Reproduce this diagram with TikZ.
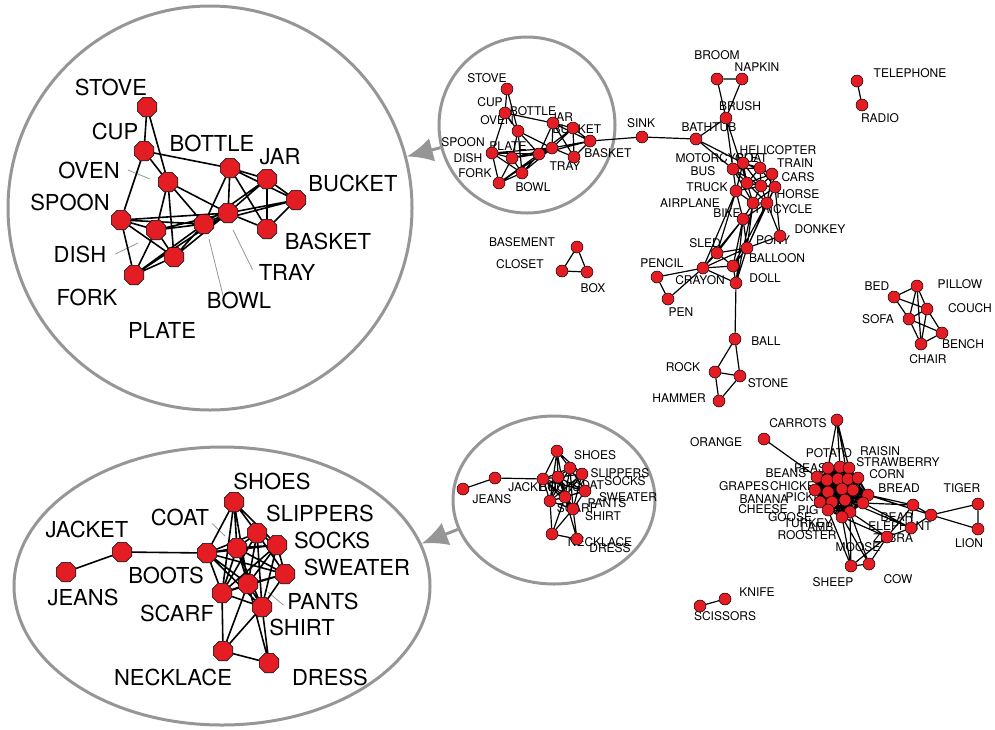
\documentclass[tikz,border=0pt]{standalone}
\usepackage{fontspec}
\setmainfont{TeX Gyre Heros}
\usetikzlibrary{positioning,shapes.geometric,arrows.meta,backgrounds}
\definecolor{nodered}{RGB}{228,28,36}
\definecolor{ringgray}{RGB}{150,150,150}
\tikzset{
  vx/.style={circle, draw=black, line width=0.5pt, fill=nodered, minimum size=12pt, inner sep=0pt},
  bigvx/.style={regular polygon, regular polygon sides=8, draw=black, line width=0.6pt, fill=nodered, minimum size=21pt, inner sep=0pt},
  lab/.style={font=\fontsize{12}{12}\selectfont, inner sep=0pt},
  biglab/.style={font=\fontsize{22}{22}\selectfont, inner sep=0pt},
  edge/.style={line width=1.2pt},
  bigedge/.style={line width=1.6pt},
  lead/.style={draw=ringgray, line width=0.8pt},
  zoomring/.style={draw=ringgray, line width=3pt, inner sep=0pt},
  zoomarrow/.style={draw=ringgray, fill=ringgray, line width=3pt, -{Latex[length=26pt,width=24pt]}},
}
\begin{document}
\begin{tikzpicture}[x=1pt,y=-1pt]
\useasboundingbox (0,0) rectangle (995,729);

% kitchen, zoomed
\node[bigvx] (Kstove) at (147,107) {};
\node[bigvx] (Kcup) at (144,151) {};
\node[bigvx] (Koven) at (168,182) {};
\node[bigvx] (Kbottle) at (230,168) {};
\node[bigvx] (Kjar) at (267,179) {};
\node[bigvx] (Kbucket) at (296,200) {};
\node[bigvx] (Kspoon) at (121,220) {};
\node[bigvx] (Kdish) at (156,230) {};
\node[bigvx] (Kbowl) at (204,224) {};
\node[bigvx] (Ktray) at (228,213) {};
\node[bigvx] (Kbasket) at (267,229) {};
\node[bigvx] (Kplate) at (174,257) {};
\node[bigvx] (Kfork) at (134,275) {};

% clothes, zoomed
\node[bigvx] (Cshoes) at (234,502) {};
\node[bigvx] (Cslippers) at (257,533) {};
\node[bigvx] (Csocks) at (277,545) {};
\node[bigvx] (Ccoat) at (237,548) {};
\node[bigvx] (Cboots) at (207,553) {};
\node[bigvx] (Cjacket) at (122,552) {};
\node[bigvx] (Cjeans) at (66,572) {};
\node[bigvx] (Csweater) at (285,574) {};
\node[bigvx] (Cpants) at (248,584) {};
\node[bigvx] (Cscarf) at (222,593) {};
\node[bigvx] (Cshirt) at (262,607) {};
\node[bigvx] (Cnecklace) at (223,651) {};
\node[bigvx] (Cdress) at (269,663) {};

% kitchen
\node[vx] (kstove) at (507,89) {};
\node[vx] (kcup) at (505,113) {};
\node[vx] (koven) at (518,131) {};
\node[vx] (kbottle) at (553,123) {};
\node[vx] (kjar) at (573,128) {};
\node[vx] (kbucket) at (590,141) {};
\node[vx] (kspoon) at (492,153) {};
\node[vx] (kdish) at (512,158) {};
\node[vx] (kbowl) at (539,154) {};
\node[vx] (ktray) at (552,148) {};
\node[vx] (kbasket) at (574,157) {};
\node[vx] (kplate) at (522,173) {};
\node[vx] (kfork) at (499,183) {};

% clothes
\node[vx] (cshoes) at (557,451) {};
\node[vx] (cslippers) at (570,468) {};
\node[vx] (csocks) at (582,474) {};
\node[vx] (ccoat) at (558,477) {};
\node[vx] (cboots) at (543,479) {};
\node[vx] (cjacket) at (495,478) {};
\node[vx] (cjeans) at (463,489) {};
\node[vx] (csweater) at (585,491) {};
\node[vx] (cpants) at (565,497) {};
\node[vx] (cscarf) at (550,501) {};
\node[vx] (cshirt) at (573,509) {};
\node[vx] (cnecklace) at (552,534) {};
\node[vx] (cdress) at (577,539) {};

% vehicles, toys, tools
\node[vx] (sink) at (642,137) {};
\node[vx] (broom) at (717,79) {};
\node[vx] (napkin) at (742,79) {};
\node[vx] (brush) at (726,118) {};
\node[vx] (bathtub) at (696,139) {};
\node[vx] (heli) at (743,163) {};
\node[vx] (bus) at (733,169) {};
\node[vx] (train) at (760,168) {};
\node[vx] (cars) at (772,174) {};
\node[vx] (moto) at (747,183) {};
\node[vx] (boat) at (761,186) {};
\node[vx] (horse) at (775,187) {};
\node[vx] (truck) at (736,191) {};
\node[vx] (airplane) at (753,203) {};
\node[vx] (tricycle) at (767,203) {};
\node[vx] (bike) at (743,219) {};
\node[vx] (donkey) at (780,236) {};
\node[vx] (pony) at (747,248) {};
\node[vx] (sled) at (717,253) {};
\node[vx] (balloon) at (733,266) {};
\node[vx] (crayon) at (703,268) {};
\node[vx] (pencil) at (657,277) {};
\node[vx] (pen) at (668,299) {};
\node[vx] (doll) at (736,283) {};
\node[vx] (ball) at (735,339) {};
\node[vx] (rock) at (715,372) {};
\node[vx] (stone) at (740,376) {};
\node[vx] (hammer) at (719,401) {};
\node[vx] (basement) at (577,247) {};
\node[vx] (closet) at (562,271) {};
\node[vx] (box) at (587,272) {};
\node[vx] (telephone) at (857,81) {};
\node[vx] (radio) at (862,105) {};
\node[vx] (bed) at (894,297) {};
\node[vx] (pillow) at (917,286) {};
\node[vx] (couch) at (927,309) {};
\node[vx] (sofa) at (909,319) {};
\node[vx] (bench) at (942,333) {};
\node[vx] (chair) at (921,344) {};

% food and animals
\node[vx] (carrots) at (837,420) {};
\node[vx] (orange) at (764,439) {};
\node[vx] (f1) at (828,468) {};
\node[vx] (f2) at (840,467) {};
\node[vx] (f3) at (849,468) {};
\node[vx] (f4) at (817,477) {};
\node[vx] (f5) at (827,480) {};
\node[vx] (f6) at (838,479) {};
\node[vx] (f7) at (848,479) {};
\node[vx] (f8) at (858,478) {};
\node[vx] (f9) at (815,490) {};
\node[vx] (f10) at (828,492) {};
\node[vx] (f11) at (842,489) {};
\node[vx] (f12) at (853,490) {};
\node[vx] (f13) at (868,495) {};
\node[vx] (f14) at (820,502) {};
\node[vx] (f15) at (832,502) {};
\node[vx] (f16) at (845,500) {};
\node[vx] (f17) at (863,503) {};
\node[vx] (f18) at (828,510) {};
\node[vx] (f19) at (850,512) {};
\node[vx] (f20) at (842,517) {};
\node[vx] (bear) at (913,505) {};
\node[vx] (wild) at (931,515) {};
\node[vx] (elephant) at (911,528) {};
\node[vx] (zebra) at (887,537) {};
\node[vx] (tiger) at (978,504) {};
\node[vx] (lion) at (978,529) {};
\node[vx] (sheep) at (851,566) {};
\node[vx] (cow) at (869,564) {};
\node[vx] (knife) at (725,599) {};
\node[vx] (scissors) at (700,606) {};

\begin{scope}[on background layer]
\node[zoomring, circle, minimum size=404pt] (ringK) at (210,208) {};
\node[zoomring, circle, minimum size=176pt] (ringk) at (527,125) {};
\node[zoomring, ellipse, minimum width=416pt, minimum height=278pt] (ringC) at (222,586) {};
\node[zoomring, ellipse, minimum width=202pt, minimum height=168pt] (ringc) at (554,500) {};
\draw[zoomarrow] (ringk) -- (ringK);
\draw[zoomarrow] (ringc.197) -- (ringC.12);

\node[biglab] (lKstove) at (111,87) {STOVE};
\node[biglab] (lKcup) at (115,131) {CUP};
\node[biglab] (lKbottle) at (212,143) {BOTTLE};
\node[biglab] (lKjar) at (280,157) {JAR};
\node[biglab] (lKoven) at (89,170) {OVEN};
\node[biglab] (lKbucket) at (353,183) {BUCKET};
\node[biglab] (lKspoon) at (70,202) {SPOON};
\node[biglab] (lKdish) at (80,254) {DISH};
\node[biglab] (lKbasket) at (328,241) {BASKET};
\node[biglab] (lKtray) at (287,272) {TRAY};
\node[biglab] (lKbowl) at (239,300) {BOWL};
\node[biglab] (lKfork) at (87,297) {FORK};
\node[biglab] (lKplate) at (162,330) {PLATE};
\coordinate (pKoven) at (150,179);
\coordinate (pKdish) at (138,243);
\coordinate (pKtray) at (233,230);
\coordinate (pKbowl) at (209,239);
\draw[lead] ([xshift=8pt]lKoven.east) -- (pKoven);
\draw[lead] ([xshift=9pt]lKdish.east) -- (pKdish);
\draw[lead] ([xshift=-6pt,yshift=-6pt]lKtray.north west) -- (pKtray);
\draw[lead] ([xshift=-16pt,yshift=-4pt]lKbowl.north) -- (pKbowl);

\node[biglab] (lCshoes) at (272,481) {SHOES};
\node[biglab] (lCslippers) at (320,513) {SLIPPERS};
\node[biglab] (lCsocks) at (332,540) {SOCKS};
\node[biglab] (lCcoat) at (180,517) {COAT};
\node[biglab] (lCboots) at (166,575) {BOOTS};
\node[biglab] (lCjacket) at (87,529) {JACKET};
\node[biglab] (lCjeans) at (83,597) {JEANS};
\node[biglab] (lCsweater) at (357,567) {SWEATER};
\node[biglab] (lCpants) at (323,601) {PANTS};
\node[biglab] (lCscarf) at (177,613) {SCARF};
\node[biglab] (lCshirt) at (302,627) {SHIRT};
\node[biglab] (lCnecklace) at (173,677) {NECKLACE};
\node[biglab] (lCdress) at (330,677) {DRESS};
\coordinate (pCcoat) at (225,536);
\coordinate (pCpants) at (268,592);
\draw[lead] ([xshift=3pt,yshift=2pt]lCcoat.south east) -- (pCcoat);
\draw[lead] ([xshift=-4pt,yshift=-4pt]lCpants.west) -- (pCpants);

\node[lab] (lkstove) at (487,78) {STOVE};
\node[lab] (lkcup) at (490,102) {CUP};
\node[lab] (lkoven) at (497,120) {OVEN};
\node[lab] (lkbottle) at (533,111) {BOTTLE};
\node[lab] (lkjar) at (562,117) {JAR};
\node[lab] (lkbucket) at (577,129) {BUCKET};
\node[lab] (lkspoon) at (463,142) {SPOON};
\node[lab] (lkplate) at (508,146) {PLATE};
\node[lab] (lkdish) at (468,158) {DISH};
\node[lab] (lkfork) at (475,173) {FORK};
\node[lab] (lkbowl) at (533,187) {BOWL};
\node[lab] (lktray) at (565,166) {TRAY};
\node[lab] (lkbasket) at (608,153) {BASKET};

\node[lab] (lcshoes) at (595,455) {SHOES};
\node[lab] (lcslippers) at (620,473) {SLIPPERS};
\node[lab] (lcsocks) at (625,481) {SOCKS};
\node[lab] (lccoat) at (588,485) {COAT};
\node[lab] (lcboots) at (560,487) {BOOTS};
\node[lab] (lcjacket) at (531,487) {JACKET};
\node[lab] (lcjeans) at (492,499) {JEANS};
\node[lab] (lcsweater) at (628,497) {SWEATER};
\node[lab] (lcpants) at (607,503) {PANTS};
\node[lab] (lcscarf) at (577,508) {SCARF};
\node[lab] (lcshirt) at (603,516) {SHIRT};
\node[lab] (lcnecklace) at (600,542) {NECKLACE};
\node[lab] (lcdress) at (610,548) {DRESS};

\node[lab] (tsink) at (641,123) {SINK};
\node[lab] (tbroom) at (717,55) {BROOM};
\node[lab] (tnapkin) at (757,67) {NAPKIN};
\node[lab] (tbrush) at (740,106) {BRUSH};
\node[lab] (tbathtub) at (709,127) {BATHTUB};
\node[lab] (theli) at (778,150) {HELICOPTER};
\node[lab] (tmoto) at (717,158) {MOTORCYCLE};
\node[lab] (tboat) at (752,158) {BOAT};
\node[lab] (tbus) at (703,171) {BUS};
\node[lab] (ttrain) at (795,163) {TRAIN};
\node[lab] (tcars) at (798,177) {CARS};
\node[lab] (ttruck) at (707,187) {TRUCK};
\node[lab] (thorse) at (798,194) {HORSE};
\node[lab] (tairplane) at (690,203) {AIRPLANE};
\node[lab] (tbike) at (727,213) {BIKE};
\node[lab] (ttricycle) at (783,209) {TRICYCLE};
\node[lab] (tdonkey) at (820,229) {DONKEY};
\node[lab] (tpony) at (773,240) {PONY};
\node[lab] (tsled) at (705,243) {SLED};
\node[lab] (tballoon) at (777,258) {BALLOON};
\node[lab] (tpencil) at (662,263) {PENCIL};
\node[lab] (tcrayon) at (700,280) {CRAYON};
\node[lab] (tdoll) at (765,278) {DOLL};
\node[lab] (tpen) at (681,312) {PEN};
\node[lab] (tball) at (766,341) {BALL};
\node[lab] (trock) at (683,367) {ROCK};
\node[lab] (tstone) at (768,383) {STONE};
\node[lab] (thammer) at (679,398) {HAMMER};
\node[lab] (tbasement) at (522,242) {BASEMENT};
\node[lab] (tcloset) at (520,264) {CLOSET};
\node[lab] (tbox) at (593,288) {BOX};
\node[lab] (ttelephone) at (910,73) {TELEPHONE};
\node[lab] (tradio) at (880,118) {RADIO};
\node[lab] (tbed) at (877,286) {BED};
\node[lab] (tpillow) at (960,284) {PILLOW};
\node[lab] (tcouch) at (970,308) {COUCH};
\node[lab] (tsofa) at (878,319) {SOFA};
\node[lab] (tbench) at (963,344) {BENCH};
\node[lab] (tchair) at (928,359) {CHAIR};

\node[lab] (tcarrots) at (798,423) {CARROTS};
\node[lab] (torange) at (716,442) {ORANGE};
\node[lab] (tpotato) at (829,453) {POTATO};
\node[lab] (traisin) at (880,451) {RAISIN};
\node[lab] (tstrawberry) at (898,462) {STRAWBERRY};
\node[lab] (tcorn) at (887,474) {CORN};
\node[lab] (tbeans) at (786,473) {BEANS};
\node[lab] (tpeas) at (810,468) {PEAS};
\node[lab] (tgrapes) at (744,486) {GRAPES};
\node[lab] (tchicken) at (797,486) {CHICKEN};
\node[lab] (tbread) at (899,488) {BREAD};
\node[lab] (ttiger) at (962,488) {TIGER};
\node[lab] (tbanana) at (764,499) {BANANA};
\node[lab] (tpickle) at (807,497) {PICKLE};
\node[lab] (tcheese) at (763,509) {CHEESE};
\node[lab] (tpig) at (808,510) {PIG};
\node[lab] (tgoose) at (790,517) {GOOSE};
\node[lab] (tturkey) at (808,523) {TURKEY};
\node[lab] (tlamb) at (817,527) {LAMB};
\node[lab] (trooster) at (807,535) {ROOSTER};
\node[lab] (tmoose) at (858,547) {MOOSE};
\node[lab] (tzebra) at (893,538) {ZEBRA};
\node[lab] (telephant) at (900,526) {ELEPHANT};
\node[lab] (tbear) at (897,517) {BEAR};
\node[lab] (tlion) at (969,543) {LION};
\node[lab] (tsheep) at (833,582) {SHEEP};
\node[lab] (tcow) at (898,579) {COW};
\node[lab] (tknife) at (757,592) {KNIFE};
\node[lab] (tscissors) at (725,616) {SCISSORS};

\draw[bigedge] (Kstove)--(Kcup) (Kstove)--(Koven) (Kcup)--(Koven) (Kcup)--(Kspoon) (Kcup)--(Kbottle)
  (Koven)--(Kdish) (Koven)--(Kplate) (Koven)--(Ktray) (Koven)--(Kbowl)
  (Kbottle)--(Kjar) (Kbottle)--(Kbucket) (Kbottle)--(Kbowl) (Kbottle)--(Ktray) (Kbottle)--(Kbasket)
  (Kjar)--(Kbucket) (Kjar)--(Kbasket) (Kjar)--(Ktray) (Kjar)--(Kbowl)
  (Kbucket)--(Kbasket) (Kbucket)--(Ktray) (Kbucket)--(Kbowl) (Ktray)--(Kbasket)
  (Kspoon)--(Kdish) (Kspoon)--(Kfork) (Kspoon)--(Kplate) (Kspoon)--(Kbowl) (Kspoon)--(Ktray)
  (Kdish)--(Kfork) (Kdish)--(Kplate) (Kdish)--(Kbowl) (Kdish)--(Ktray)
  (Kfork)--(Kplate) (Kfork)--(Kbowl) (Kfork)--(Ktray)
  (Kplate)--(Kbowl) (Kplate)--(Ktray) (Kbowl)--(Ktray);

\draw[edge] (kstove)--(kcup) (kstove)--(koven) (kcup)--(koven) (kcup)--(kspoon) (kcup)--(kbottle)
  (koven)--(kdish) (koven)--(kplate) (koven)--(ktray) (koven)--(kbowl)
  (kbottle)--(kjar) (kbottle)--(kbucket) (kbottle)--(kbowl) (kbottle)--(ktray) (kbottle)--(kbasket)
  (kjar)--(kbucket) (kjar)--(kbasket) (kjar)--(ktray) (kjar)--(kbowl)
  (kbucket)--(kbasket) (kbucket)--(ktray) (kbucket)--(kbowl) (ktray)--(kbasket)
  (kspoon)--(kdish) (kspoon)--(kfork) (kspoon)--(kplate) (kspoon)--(kbowl) (kspoon)--(ktray)
  (kdish)--(kfork) (kdish)--(kplate) (kdish)--(kbowl) (kdish)--(ktray)
  (kfork)--(kplate) (kfork)--(kbowl) (kfork)--(ktray)
  (kplate)--(kbowl) (kplate)--(ktray) (kbowl)--(ktray) (kbucket)--(sink);

\draw[bigedge] (Cjeans)--(Cjacket) (Cjacket)--(Cboots)
  (Cboots)--(Cshoes) (Cboots)--(Ccoat) (Cboots)--(Cslippers) (Cboots)--(Csocks) (Cboots)--(Cpants)
  (Cboots)--(Cscarf) (Cboots)--(Cshirt) (Cboots)--(Csweater)
  (Cshoes)--(Cslippers) (Cshoes)--(Csocks) (Cshoes)--(Ccoat) (Cshoes)--(Cpants) (Cshoes)--(Cscarf)
  (Cslippers)--(Csocks) (Cslippers)--(Ccoat) (Cslippers)--(Csweater) (Cslippers)--(Cpants)
  (Cslippers)--(Cscarf) (Cslippers)--(Cshirt)
  (Csocks)--(Ccoat) (Csocks)--(Csweater) (Csocks)--(Cpants) (Csocks)--(Cshirt) (Csocks)--(Cscarf)
  (Ccoat)--(Cpants) (Ccoat)--(Cscarf) (Ccoat)--(Cshirt) (Ccoat)--(Csweater)
  (Csweater)--(Cpants) (Csweater)--(Cscarf) (Csweater)--(Cshirt)
  (Cpants)--(Cscarf) (Cpants)--(Cshirt) (Cscarf)--(Cshirt)
  (Cscarf)--(Cnecklace) (Cshirt)--(Cnecklace) (Cpants)--(Cnecklace)
  (Cnecklace)--(Cdress) (Cshirt)--(Cdress) (Cpants)--(Cdress);

\draw[edge] (cjeans)--(cjacket) (cjacket)--(cboots)
  (cboots)--(cshoes) (cboots)--(ccoat) (cboots)--(cslippers) (cboots)--(csocks) (cboots)--(cpants)
  (cboots)--(cscarf) (cboots)--(cshirt) (cboots)--(csweater)
  (cshoes)--(cslippers) (cshoes)--(csocks) (cshoes)--(ccoat) (cshoes)--(cpants) (cshoes)--(cscarf)
  (cslippers)--(csocks) (cslippers)--(ccoat) (cslippers)--(csweater) (cslippers)--(cpants)
  (cslippers)--(cscarf) (cslippers)--(cshirt)
  (csocks)--(ccoat) (csocks)--(csweater) (csocks)--(cpants) (csocks)--(cshirt) (csocks)--(cscarf)
  (ccoat)--(cpants) (ccoat)--(cscarf) (ccoat)--(cshirt) (ccoat)--(csweater)
  (csweater)--(cpants) (csweater)--(cscarf) (csweater)--(cshirt)
  (cpants)--(cscarf) (cpants)--(cshirt) (cscarf)--(cshirt)
  (cscarf)--(cnecklace) (cshirt)--(cnecklace) (cpants)--(cnecklace)
  (cnecklace)--(cdress) (cshirt)--(cdress) (cpants)--(cdress);

\draw[edge] (sink)--(bathtub) (bathtub)--(brush) (brush)--(broom) (brush)--(napkin) (broom)--(napkin)
  (bathtub)--(bus) (bathtub)--(heli) (brush)--(bus) (brush)--(moto)
  (heli)--(bus) (heli)--(train) (heli)--(moto) (heli)--(boat) (heli)--(cars) (heli)--(truck)
  (bus)--(train) (bus)--(moto) (bus)--(truck) (bus)--(boat) (bus)--(airplane)
  (train)--(cars) (train)--(moto) (train)--(boat) (train)--(horse)
  (cars)--(boat) (cars)--(horse) (cars)--(moto) (cars)--(tricycle)
  (moto)--(boat) (moto)--(truck) (moto)--(airplane) (moto)--(tricycle) (moto)--(horse)
  (boat)--(horse) (boat)--(airplane) (boat)--(tricycle) (boat)--(truck)
  (horse)--(tricycle) (horse)--(airplane)
  (truck)--(airplane) (truck)--(bike) (airplane)--(tricycle) (airplane)--(bike) (tricycle)--(bike)
  (bike)--(sled) (bike)--(crayon) (bike)--(balloon) (bike)--(doll) (bike)--(pony)
  (truck)--(sled) (truck)--(crayon) (airplane)--(pony) (tricycle)--(pony) (tricycle)--(donkey)
  (horse)--(donkey) (horse)--(pony) (tricycle)--(balloon) (airplane)--(doll)
  (pony)--(donkey) (sled)--(crayon) (sled)--(balloon) (sled)--(pony) (crayon)--(balloon)
  (crayon)--(doll) (crayon)--(pony) (balloon)--(pony) (balloon)--(doll) (pony)--(doll)
  (pencil)--(crayon) (pencil)--(pen) (pen)--(crayon) (doll)--(ball) (ball)--(rock) (ball)--(stone)
  (rock)--(stone) (rock)--(hammer) (stone)--(hammer)
  (basement)--(closet) (basement)--(box) (closet)--(box)
  (telephone)--(radio)
  (bed)--(pillow) (bed)--(couch) (bed)--(sofa) (pillow)--(couch) (pillow)--(sofa) (pillow)--(chair)
  (couch)--(sofa) (couch)--(bench) (couch)--(chair) (sofa)--(bench) (sofa)--(chair) (chair)--(bench)
  (knife)--(scissors);

\foreach \i in {1,...,19}{
  \pgfmathtruncatemacro\nxt{\i+1}
  \foreach \j in {\nxt,...,20}{\draw[edge] (f\i)--(f\j);}
}
\draw[edge] (carrots)--(f1) (carrots)--(f2) (carrots)--(f3) (carrots)--(f7) (orange)--(f4)
  (f13)--(bear) (f13)--(wild) (f17)--(bear) (f17)--(elephant) (f12)--(wild)
  (f19)--(zebra) (f20)--(zebra) (f19)--(sheep) (f20)--(sheep) (f20)--(cow) (f19)--(cow) (f18)--(sheep)
  (f16)--(elephant) (bear)--(wild) (bear)--(elephant) (elephant)--(wild) (elephant)--(zebra)
  (bear)--(zebra) (zebra)--(sheep) (zebra)--(cow) (sheep)--(cow)
  (wild)--(tiger) (wild)--(lion) (tiger)--(lion);
\end{scope}
\end{tikzpicture}
\end{document}
